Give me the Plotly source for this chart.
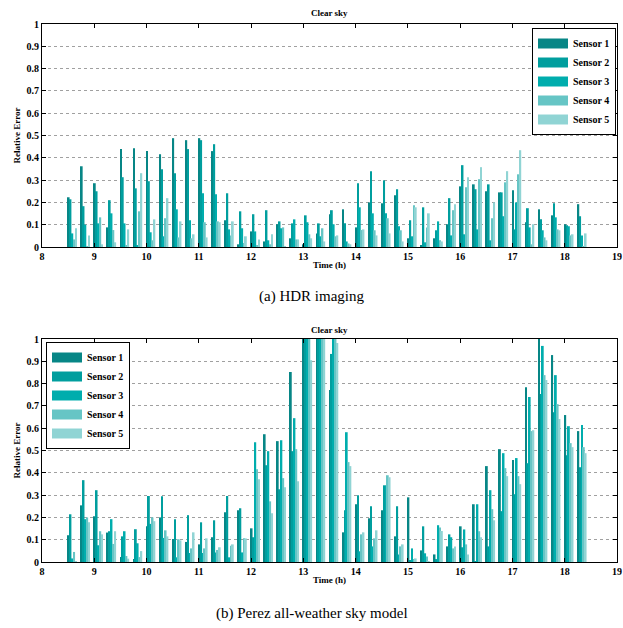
import plotly.graph_objects as go

# Time of each measurement group (decimal hours)
times = [8.58, 8.83, 9.08, 9.33, 9.58, 9.83, 10.08, 10.33, 10.58, 10.83,
         11.08, 11.33, 11.58, 11.83, 12.08, 12.33, 12.58, 12.83, 13.08, 13.33,
         13.58, 13.83, 14.08, 14.33, 14.58, 14.83, 15.08, 15.33, 15.58, 15.83,
         16.08, 16.33, 16.58, 16.83, 17.08, 17.33, 17.58, 17.83, 18.08, 18.33]

sensor_names = ["Sensor 1", "Sensor 2", "Sensor 3", "Sensor 4", "Sensor 5"]
sensor_colors = ["#078686", "#009e9e", "#00adad", "#66c5c5", "#90d4d4"]

# (a) HDR imaging
hdr_s1 = [0.223, 0.362, 0.286, 0.088, 0.439, 0.443, 0.430, 0.416, 0.488, 0.479,
          0.488, 0.430, 0.120, 0.012, 0.070, 0.025, 0.102, 0.039, 0.012, 0.061,
          0.147, 0.169, 0.088, 0.200, 0.196, 0.232, 0.039, 0.007, 0.039, 0.102,
          0.272, 0.281, 0.250, 0.245, 0.254, 0.111, 0.169, 0.142, 0.102, 0.192]
hdr_s2 = [0.214, 0.183, 0.250, 0.210, 0.313, 0.263, 0.295, 0.349, 0.331, 0.439,
          0.479, 0.461, 0.241, 0.160, 0.147, 0.165, 0.115, 0.106, 0.142, 0.106,
          0.165, 0.106, 0.286, 0.340, 0.299, 0.259, 0.120, 0.178, 0.075, 0.219,
          0.367, 0.259, 0.281, 0.245, 0.079, 0.174, 0.124, 0.196, 0.097, 0.138]
hdr_s3 = [0.061, 0.100, 0.106, 0.151, 0.106, 0.007, 0.066, 0.048, 0.169, 0.120,
          0.241, 0.237, 0.079, 0.084, 0.070, 0.030, 0.084, 0.124, 0.111, 0.048,
          0.102, 0.025, 0.178, 0.151, 0.151, 0.093, 0.048, 0.021, 0.115, 0.052,
          0.057, 0.079, 0.030, 0.138, 0.200, 0.088, 0.075, 0.133, 0.093, 0.052]
hdr_s4 = [0.034, 0.003, 0.133, 0.076, 0.007, 0.160, 0.030, 0.129, 0.043, 0.039,
          0.111, 0.115, 0.052, 0.018, 0.006, 0.012, 0.088, 0.034, 0.057, 0.084,
          0.048, 0.016, 0.076, 0.075, 0.129, 0.075, 0.187, 0.088, 0.030, 0.165,
          0.268, 0.304, 0.129, 0.290, 0.326, 0.012, 0.043, 0.079, 0.052, 0.003]
hdr_s5 = [0.084, 0.052, 0.012, 0.021, 0.079, 0.331, 0.124, 0.219, 0.115, 0.057,
          0.043, 0.111, 0.115, 0.048, 0.034, 0.057, 0.003, 0.034, 0.039, 0.025,
          0.052, 0.012, 0.079, 0.052, 0.061, 0.025, 0.178, 0.151, 0.025, 0.192,
          0.313, 0.358, 0.200, 0.340, 0.434, 0.102, 0.030, 0.075, 0.057, 0.061]

# (b) Perez all-weather sky model
perez_s1 = [0.120, 0.254, 0.205, 0.132, 0.022, 0.013, 0.160, 0.200, 0.103, 0.090,
            0.079, 0.111, 0.223, 0.232, 0.151, 0.573, 0.542, 0.852, 1.000, 1.000,
            0.771, 0.133, 0.259, 0.196, 0.232, 0.115, 0.290, 0.052, 0.034, 0.070,
            0.160, 0.259, 0.430, 0.506, 0.457, 0.784, 1.000, 0.928, 0.659, 0.587]
perez_s2 = [0.214, 0.367, 0.322, 0.138, 0.115, 0.147, 0.296, 0.295, 0.192, 0.210,
            0.178, 0.187, 0.296, 0.241, 0.111, 0.434, 0.326, 0.497, 1.000, 1.000,
            0.933, 0.232, 0.299, 0.250, 0.344, 0.250, 0.007, 0.160, 0.013, 0.124,
            0.066, 0.003, 0.070, 0.228, 0.304, 0.443, 0.753, 0.672, 0.479, 0.425]
perez_s3 = [0.016, 0.192, 0.075, 0.192, 0.138, 0.084, 0.171, 0.108, 0.021, 0.040,
            0.040, 0.043, 0.021, 0.043, 0.537, 0.497, 0.546, 0.645, 1.000, 1.000,
            1.000, 0.582, 0.048, 0.070, 0.344, 0.034, 0.061, 0.039, 0.165, 0.111,
            0.146, 0.259, 0.322, 0.488, 0.466, 0.740, 0.969, 0.838, 0.609, 0.614]
perez_s4 = [0.045, 0.200, 0.138, 0.081, 0.027, 0.022, 0.200, 0.142, 0.102, 0.061,
            0.061, 0.054, 0.073, 0.106, 0.416, 0.272, 0.376, 0.506, 1.000, 1.000,
            1.000, 0.448, 0.124, 0.106, 0.389, 0.070, 0.013, 0.025, 0.155, 0.061,
            0.079, 0.138, 0.237, 0.421, 0.385, 0.587, 0.838, 0.708, 0.533, 0.515]
perez_s5 = [0.003, 0.178, 0.124, 0.138, 0.015, 0.049, 0.183, 0.115, 0.097, 0.133,
            0.106, 0.066, 0.079, 0.106, 0.371, 0.219, 0.335, 0.362, 0.905, 1.000,
            0.982, 0.430, 0.133, 0.142, 0.380, 0.079, 0.016, 0.004, 0.139, 0.070,
            0.034, 0.111, 0.187, 0.385, 0.349, 0.591, 0.816, 0.641, 0.515, 0.488]

hdr = [hdr_s1, hdr_s2, hdr_s3, hdr_s4, hdr_s5]
perez = [perez_s1, perez_s2, perez_s3, perez_s4, perez_s5]

x_ticks = [8, 9, 10, 11, 12, 13, 14, 15, 16, 17, 18, 19]
y_ticks = [0, 0.1, 0.2, 0.3, 0.4, 0.5, 0.6, 0.7, 0.8, 0.9, 1]

SERIF = "Liberation Serif"
W, H = 623, 628

fig = go.Figure()

for i in range(5):
    fig.add_trace(go.Bar(x=times, y=hdr[i], name=sensor_names[i], showlegend=False,
                         marker=dict(color=sensor_colors[i], line=dict(width=0)),
                         xaxis="x", yaxis="y"))
for i in range(5):
    fig.add_trace(go.Bar(x=times, y=perez[i], name=sensor_names[i], showlegend=False,
                         marker=dict(color=sensor_colors[i], line=dict(width=0)),
                         xaxis="x2", yaxis="y2"))

# legend keys (wide colour patches like the original)
for leg, xa, ya in (("legend", "x", "y"), ("legend2", "x2", "y2")):
    for i in range(5):
        fig.add_trace(go.Scatter(x=[None], y=[None], mode="lines", name=sensor_names[i],
                                 line=dict(color=sensor_colors[i], width=10),
                                 xaxis=xa, yaxis=ya, legend=leg, hoverinfo="skip"))

xdom = [42 / W, 617 / W]
top_dom = [1 - 247 / H, 1 - 24 / H]
bot_dom = [1 - 562 / H, 1 - 339 / H]

tickfont = dict(family=SERIF, size=10, color="black", weight="bold")
titlefont = dict(family=SERIF, size=9, color="black", weight="bold")

def xaxis_cfg(anchor):
    return dict(domain=xdom, anchor=anchor, range=[8, 19], tickvals=x_ticks,
                showline=True, linecolor="black", linewidth=1, mirror="ticks",
                ticks="inside", ticklen=4, tickcolor="black", showgrid=False,
                zeroline=False, tickfont=tickfont, automargin=False,
                title=dict(text="Time (h)", font=titlefont, standoff=0))

def yaxis_cfg(domain, anchor):
    return dict(domain=domain, anchor=anchor, range=[0, 1], tickvals=y_ticks,
                showline=True, linecolor="black", linewidth=1, mirror="ticks",
                ticks="inside", ticklen=4, tickcolor="black",
                showgrid=True, gridcolor="#a0a0a0", griddash="dot", gridwidth=1,
                zeroline=False, tickfont=tickfont, automargin=False,
                title=dict(text="Relative Error", font=titlefont, standoff=4))

legend_common = dict(font=dict(family=SERIF, size=10, color="black", weight="bold"),
                     bgcolor="white", bordercolor="black", borderwidth=1,
                     tracegroupgap=0, itemwidth=30)

def note(text, yp, size, bold):
    f = dict(family=SERIF, size=size, color="black")
    if bold:
        f["weight"] = "bold"
    return dict(text=text, x=(xdom[0] + xdom[1]) / 2 if bold else 0.5, y=1 - yp / H,
                xref="paper", yref="paper", xanchor="center", yanchor="middle",
                showarrow=False, font=f)

fig.update_layout(
    width=W, height=H,
    margin=dict(l=0, r=0, t=0, b=0, autoexpand=False),
    paper_bgcolor="white", plot_bgcolor="white",
    barmode="group", bargap=0.3, bargroupgap=0,
    xaxis=xaxis_cfg("y"), yaxis=yaxis_cfg(top_dom, "x"),
    xaxis2=xaxis_cfg("y2"), yaxis2=yaxis_cfg(bot_dom, "x2"),
    legend=dict(x=616 / W, y=1 - 28 / H, xanchor="right", yanchor="top", **legend_common),
    legend2=dict(x=46 / W, y=1 - 342 / H, xanchor="left", yanchor="top", **legend_common),
    showlegend=True,
    annotations=[
        note("Clear sky", 13, 9, True),
        note("Clear sky", 330, 9, True),
        note("(a) HDR imaging", 296, 15, False),
        note("(b) Perez all-weather sky model", 613, 15, False),
    ],
)

fig.write_html("out.html")
